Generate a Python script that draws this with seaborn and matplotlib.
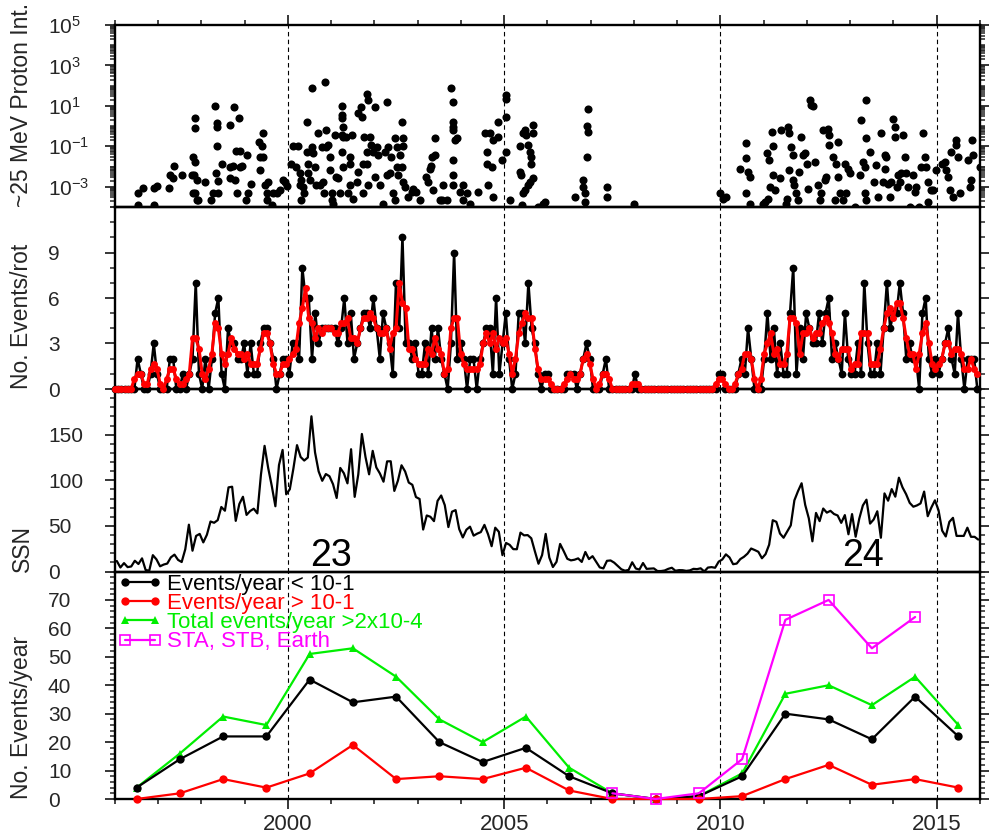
import numpy as np
import pandas as pd
import matplotlib
matplotlib.use("Agg")
import matplotlib.pyplot as plt
import matplotlib.transforms as mtransforms
import seaborn as sns
from matplotlib.ticker import MultipleLocator, FixedLocator, LogLocator, NullFormatter

# ---------------- data ----------------
# Panel 1: individual events (decimal year, log10 of ~25 MeV proton peak intensity)
ev_year = [
    1996.54, 1996.54, 1996.64, 1996.90, 1996.90, 1996.96, 1997.26, 1997.27, 1997.36, 1997.35,
    1997.56, 1997.77, 1997.81, 1997.85, 1997.83, 1997.89, 1997.81, 1997.85, 1997.89, 1997.93,
    1997.86, 1997.86, 1998.08, 1998.23, 1998.27, 1998.31, 1998.35, 1998.35, 1998.35, 1998.33,
    1998.39, 1998.39, 1998.47, 1998.66, 1998.66, 1998.66, 1998.75, 1998.73, 1998.77, 1998.83,
    1998.79, 1998.87, 1998.89, 1998.89, 1998.93, 1999.06, 1999.08, 1999.04, 1999.14, 1999.34,
    1999.43, 1999.39, 1999.35, 1999.43, 1999.35, 1999.47, 1999.51, 1999.51, 1999.53, 1999.62,
    1999.66, 1999.74, 1999.81, 1999.89, 1999.93, 1999.97,
    2000.08, 2000.12, 2000.18, 2000.24, 2000.28, 2000.31, 2000.28, 2000.35, 2000.31, 2000.37,
    2000.43, 2000.43, 2000.47, 2000.47, 2000.51, 2000.55, 2000.56, 2000.58, 2000.62, 2000.65,
    2000.70, 2000.74, 2000.78, 2000.82, 2000.83, 2000.85, 2000.88, 2000.89, 2000.93, 2000.97,
    2000.98, 2001.01, 2001.01, 2001.05, 2001.08, 2001.12, 2001.16, 2001.20, 2001.24, 2001.24,
    2001.24, 2001.24, 2001.24, 2001.28, 2001.28, 2001.28, 2001.35, 2001.39, 2001.43, 2001.43,
    2001.43, 2001.47, 2001.51, 2001.59, 2001.62, 2001.62, 2001.68, 2001.70, 2001.74, 2001.74,
    2001.75, 2001.82, 2001.82, 2001.82, 2001.86, 2001.86, 2001.89, 2001.93, 2001.97, 2002.01,
    2002.01, 2002.05, 2002.09, 2002.12, 2002.20, 2002.24, 2002.28, 2002.32, 2002.28, 2002.36,
    2002.39, 2002.43, 2002.47, 2002.47, 2002.51, 2002.51, 2002.55, 2002.59, 2002.63, 2002.63,
    2002.66, 2002.66, 2002.66, 2002.70, 2002.78, 2002.86, 2002.90, 2002.97, 2003.06, 2003.20,
    2003.24, 2003.28, 2003.30, 2003.32, 2003.36, 2003.40, 2003.40, 2003.51, 2003.55, 2003.59,
    2003.67, 2003.78, 2003.82, 2003.82, 2003.82, 2003.82, 2003.86, 2003.82, 2003.82, 2003.82,
    2003.90, 2003.97, 2004.05, 2004.05, 2004.13, 2004.20, 2004.40, 2004.55, 2004.59, 2004.59,
    2004.63, 2004.67, 2004.71, 2004.74, 2004.74, 2004.86, 2004.86,
    2004.94, 2005.04, 2005.04, 2005.04, 2005.04, 2005.13, 2005.36, 2005.38, 2005.40, 2005.36,
    2005.44, 2005.48, 2005.51, 2005.55, 2005.59, 2005.63, 2005.63, 2005.67, 2005.67, 2005.67,
    2005.59, 2005.55, 2005.48, 2005.44, 2005.78, 2005.90, 2005.94, 2006.63, 2006.82, 2006.82,
    2006.86, 2006.86, 2006.94, 2006.92, 2006.94, 2006.92, 2007.38, 2007.38, 2007.99, 2009.98,
    2010.06, 2010.12, 2010.44, 2010.60, 2010.60, 2010.64, 2010.68, 2010.58, 2010.68, 2010.98,
    2011.02, 2011.08, 2011.12, 2011.10, 2011.15, 2011.18, 2011.21, 2011.21, 2011.25, 2011.37,
    2011.41, 2011.51, 2011.54, 2011.56, 2011.58, 2011.58, 2011.64, 2011.68, 2011.68, 2011.71,
    2011.75, 2011.79, 2011.82, 2011.87, 2011.91, 2011.95, 2011.99, 2012.02, 2012.06, 2012.10,
    2012.14, 2012.18, 2012.25, 2012.29, 2012.33, 2012.36, 2012.41, 2012.45, 2012.49, 2012.52,
    2012.52, 2012.60, 2012.64, 2012.68, 2012.72, 2012.72, 2012.76, 2012.83, 2012.87, 2012.91,
    2012.95, 2012.99, 2013.10, 2013.22, 2013.26, 2013.29, 2013.33, 2013.33, 2013.37, 2013.37,
    2013.37, 2013.45, 2013.56, 2013.60, 2013.64, 2013.72, 2013.76, 2013.80, 2013.80, 2013.83,
    2013.87, 2013.91, 2013.95, 2013.99, 2014.03, 2014.03, 2014.07, 2014.10, 2014.14, 2014.18,
    2014.22, 2014.26, 2014.30, 2014.33, 2014.37, 2014.45, 2014.49, 2014.53, 2014.60, 2014.64,
    2014.68, 2014.72, 2014.76, 2014.80, 2014.80, 2014.87, 2014.91, 2014.99, 2015.11, 2015.18,
    2015.22, 2015.26, 2015.30, 2015.34, 2015.38, 2015.45, 2015.45, 2015.49, 2015.53, 2015.72,
    2015.76, 2015.80, 2015.82, 2015.84, 2015.99,
]
ev_log10 = [
    -3.33, -3.91, -3.05, -3.05, -3.91, -2.97, -3.05, -2.43, -1.98, -2.59,
    -2.43, -2.43, -1.52, -1.77, -2.43, -2.67, -3.30, -3.30, -3.66, -3.66,
    0.38, -0.07, -2.76, -3.66, -3.30, 0.99, 0.13, -0.03, -0.97, -2.31,
    -3.30, -2.71, -1.85, 0.05, -2.59, -2.01, 0.96, -1.98, -2.67, -3.30,
    -1.24, 0.38, -1.24, -2.01, -1.98, -1.44, -3.30, -3.63, -2.87, -0.78,
    -0.36, -0.97, -1.52, -1.52, -2.18, -2.92, -3.30, -3.66, -2.76, -3.91,
    -3.30, -3.30, -3.17, -2.67, -2.76, -2.97,
    -1.85, -0.97, -2.01, -0.99, -2.31, -2.67, -2.92, -3.00, -3.66, -3.30,
    0.21, -1.27, -1.85, -2.34, -2.67, 1.86, -1.02, -1.35, -2.01, -2.92,
    -0.36, -2.92, -1.02, -2.76, -3.30, 2.19, -1.02, -0.17, -0.94, -2.18,
    -1.52, -3.33, -3.66, -3.83, -0.45, -2.51, -2.59, -3.30, 0.99, 0.54,
    0.38, -0.45, -1.27, -0.03, -0.53, -2.01, -0.53, -3.30, -2.92, -1.52,
    -1.85, -0.45, -3.58, -2.76, 0.63, -2.26, 0.96, 0.46, -1.85, -3.30,
    -0.53, 1.58, -1.27, -1.85, 1.29, -2.92, -0.53, -0.94, -1.27, 0.96,
    -2.51, -1.02, -1.44, -2.92, -3.83, -1.27, 1.20, -1.02, -2.43, -2.34,
    -1.52, -3.33, -3.66, -0.61, -1.02, -2.01, -2.43, -1.44, 0.21, -2.01,
    -0.61, -0.97, -2.76, -3.00, -3.50, -3.25, -3.09, -3.25, -3.63, -2.51,
    -2.76, -2.10, -1.98, -1.52, -3.17, -0.61, -1.44, -3.66, -3.66, -2.92,
    -3.66, 1.86, 1.20, 0.21, -0.03, -0.20, -0.69, -1.68, -2.43, -2.92,
    -0.61, -3.25, -2.92, -3.66, -3.33, -3.83, -3.25, -0.36, -1.27, -1.85,
    -2.92, -0.36, -2.01, -0.69, -3.50, 0.21, -0.53,
    -1.68, 1.53, 1.32, 0.43, -1.27, -3.63, -2.26, -2.43, -3.91, -0.97,
    -0.36, -0.17, -0.45, -0.94, -1.27, -1.52, -1.85, 0.05, -0.36, -2.59,
    -2.76, -2.92, -3.17, -3.33, -3.99, -3.83, -3.75, -3.50, -2.67, -3.00,
    -3.33, -3.75, 0.87, 0.00, -0.28, -1.52, -3.03, -3.50, -3.86, -3.33,
    -3.58, -3.50, -2.10, -0.83, -1.60, -2.26, -2.51, -3.33, -3.86, -3.86,
    -3.75, -1.32, -1.68, -3.58, -3.00, -0.28, -0.99, -2.43, -3.17, -2.59,
    -0.17, -3.83, -3.58, -0.03, -0.33, -2.18, -1.02, -1.44, -2.67, -2.92,
    -3.33, -3.66, -2.26, -0.53, -1.44, -1.35, -1.85, -3.09, 1.29, 1.04,
    0.99, -1.77, -2.92, -3.66, -3.33, -0.20, -2.67, -2.51, -0.12, -0.45,
    -0.94, -1.52, -3.66, -1.85, -0.78, -2.51, -3.33, -3.66, -1.85, -3.33,
    -2.10, -2.34, -3.99, -2.43, 0.30, -1.77, -2.01, -3.33, 1.29, -0.61,
    -3.66, -1.27, -2.76, -1.93, -3.50, -0.33, -2.76, -1.44, -2.10, -1.52,
    -2.84, -3.50, -2.76, 0.33, -0.03, -0.53, -3.00, -2.43, -2.76, -2.34,
    -0.45, -1.52, -2.34, -3.00, -3.99, -2.43, -3.25, -3.00, -3.99, -2.01,
    -0.36, -1.52, -2.01, -2.76, -3.75, -3.17, -3.17, -2.18, -1.85, -1.77,
    -2.18, -2.51, -3.17, -1.27, -3.50, -0.69, -0.94, -1.52, -3.33, -1.68,
    -3.00, -2.67, -0.69, -1.44, -2.01,
]

# Panel 2: events per Carrington rotation (first rotation at 1996.0)
CR_FIRST = 1905
rot_events = [
    0, 0, 0, 0, 0, 0, 0, 2, 1, 0, 0, 1, 3, 1, 0, 0, 0, 2, 2, 0,
    0, 1, 0, 1, 2, 7, 1, 0, 2, 0, 2, 5, 6, 1, 0, 4, 3, 3, 2, 2,
    3, 1, 3, 1, 1, 3, 4, 4, 3, 2, 0, 1, 2, 2, 1, 3, 3, 2, 8, 6,
    6, 2, 5, 3, 4, 4, 4, 4, 4, 3, 4, 6, 3, 5, 2, 3, 4, 5, 5, 4,
    6, 4, 2, 5, 4, 3, 1, 7, 4, 10, 3, 3, 2, 3, 1, 1, 3, 1, 4, 2,
    4, 2, 1, 0, 3, 9, 2, 3, 2, 0, 2, 2, 0, 2, 3, 4, 4, 1, 6, 1,
    3, 5, 2, 0, 1, 5, 5, 3, 7, 4, 3, 1, 0, 1, 1, 0, 0, 0, 0, 0,
    1, 1, 1, 0, 1, 2, 3, 2, 0, 0, 0, 1, 2, 0, 0, 0, 0, 0, 0, 0,
    0, 1, 0, 0, 0, 0, 0, 0, 0, 0, 0, 0, 0, 0, 0, 0, 0, 0, 0, 0,
    0, 0, 0, 0, 0, 0, 0, 1, 1, 0, 0, 0, 0, 1, 2, 1, 4, 2, 0, 0,
    0, 2, 5, 2, 4, 1, 3, 1, 1, 5, 8, 1, 4, 2, 5, 4, 3, 3, 5, 3,
    5, 6, 2, 3, 2, 1, 5, 2, 1, 1, 3, 1, 7, 3, 1, 1, 3, 1, 4, 7,
    4, 5, 5, 7, 5, 2, 3, 2, 2, 0, 5, 6, 2, 1, 2, 1, 2, 3, 4, 2,
    1, 5, 2, 0, 2, 2, 2, 0,
]
rot_smooth = [
    0, 0, 0, 0, 0, 0, 0.67, 1, 1, 0.33, 0.33, 1.33, 1.67, 1.33, 0.33, 0, 0.67, 1.33, 1.33, 0.67,
    0.33, 0.33, 0.67, 1, 3.33, 3.33, 2.67, 1, 0.67, 1.33, 2.33, 4.33, 4, 2.33, 1.67, 2.33, 3.33, 2.67, 2.33, 2.33,
    2, 2.33, 1.67, 1.67, 1.67, 2.67, 3.67, 3.67, 3, 1.67, 1, 1, 1.67, 1.67, 2, 2.33, 2.67, 4.33, 5.33, 6.67,
    4.67, 4.33, 3.33, 4, 3.67, 4, 4, 4, 3.67, 3.67, 4.33, 4.33, 4.67, 3.33, 3.33, 3, 4, 4.67, 4.67, 5,
    4.67, 4, 3.67, 3.67, 4, 2.67, 3.67, 4, 7, 5.67, 5.33, 2.67, 2.67, 2, 1.67, 1.67, 1.67, 2.67, 2.33, 3.33,
    2.67, 2.33, 1, 1.33, 4, 4.67, 4.67, 2.33, 1.67, 1.33, 1.33, 1.33, 1.33, 1.67, 3, 3.67, 3, 3.67, 2.67, 3.33,
    3, 3.33, 2.33, 1, 2, 3.67, 4.33, 5, 4.67, 4.67, 2.67, 1.33, 0.67, 0.67, 0.67, 0.33, 0, 0, 0, 0.33,
    0.67, 1, 0.67, 0.67, 1, 2, 2.33, 1.67, 0.67, 0, 0.33, 1, 1, 0.67, 0, 0, 0, 0, 0, 0,
    0.33, 0.33, 0.33, 0, 0, 0, 0, 0, 0, 0, 0, 0, 0, 0, 0, 0, 0, 0, 0, 0,
    0, 0, 0, 0, 0, 0, 0.33, 0.67, 0.67, 0.33, 0, 0, 0.33, 1, 1.33, 2.33, 2.33, 2, 0.67, 0,
    0.67, 2.33, 3, 3.67, 2.33, 2.67, 1.67, 1.67, 2.33, 4.67, 4.67, 4.33, 2.33, 3.67, 3.67, 4, 3.33, 3.67, 3.67, 4.33,
    4.67, 4.33, 3.67, 2.33, 2, 2.67, 2.67, 2.67, 1.33, 1.67, 1.67, 3.67, 3.67, 3.67, 1.67, 1.67, 1.67, 2.67, 4, 5,
    5.33, 4.67, 5.67, 5.67, 4.67, 3.33, 2.33, 2.33, 1.33, 2.33, 3.67, 4.33, 3, 1.67, 1.33, 1.67, 2, 3, 3, 2.33,
    2.67, 2.67, 2.33, 1.33, 1.33, 2, 1.33, 1,
]

# Panel 3: monthly sunspot number, Jan 1996 .. Dec 2015
ssn_monthly = [
    11.5, 4.4, 9.2, 4.8, 5.5, 11.8, 8.2, 14.4, 1.6, 0.9, 17.9, 13.3,
    5.7, 7.6, 8.7, 15.5, 18.5, 12.7, 10.4, 24.4, 51.3, 22.8, 39.0, 41.2,
    31.9, 40.3, 54.8, 53.4, 56.3, 70.7, 66.6, 92.2, 92.9, 55.5, 74.0, 81.9,
    62.0, 66.3, 68.8, 63.7, 106.4, 137.7, 113.5, 93.7, 71.5, 116.7, 133.2, 84.6,
    90.1, 112.9, 138.5, 125.5, 121.6, 124.9, 170.1, 130.5, 109.7, 99.4, 106.8, 104.4,
    95.6, 80.6, 113.5, 107.7, 96.6, 134.0, 81.8, 106.4, 150.7, 125.5, 106.5, 132.2,
    114.1, 107.4, 98.4, 120.7, 120.8, 88.3, 99.6, 116.4, 109.6, 97.5, 95.0, 81.6,
    79.5, 46.0, 61.4, 60.0, 55.2, 77.4, 83.3, 72.7, 48.7, 65.5, 67.3, 46.5,
    37.3, 45.8, 49.1, 39.3, 41.5, 43.2, 51.1, 40.9, 27.7, 48.0, 43.5, 17.9,
    31.3, 29.2, 24.5, 24.4, 42.6, 39.6, 39.9, 36.4, 22.1, 8.5, 18.0, 41.2,
    15.3, 4.9, 10.6, 30.2, 22.3, 13.9, 12.2, 12.9, 14.4, 10.5, 21.4, 13.6,
    16.8, 10.7, 4.5, 3.4, 11.7, 12.1, 9.7, 6.0, 2.4, 0.9, 1.7, 10.1,
    3.3, 2.1, 9.3, 2.9, 3.2, 3.4, 0.5, 0.5, 1.1, 2.9, 4.1, 0.8,
    1.5, 1.4, 0.7, 1.2, 2.9, 2.6, 3.5, 0.0, 4.3, 4.8, 4.1, 10.8,
    13.2, 18.8, 15.4, 8.0, 8.7, 13.6, 16.1, 19.6, 25.2, 23.5, 21.6, 14.5,
    19.0, 29.4, 56.2, 54.4, 41.6, 37.0, 43.9, 50.6, 78.0, 88.0, 96.7, 73.0,
    58.3, 33.1, 64.2, 55.2, 69.0, 64.5, 66.5, 63.0, 61.4, 53.3, 61.8, 40.8,
    62.9, 38.1, 57.9, 72.4, 78.7, 52.5, 57.0, 66.0, 37.0, 85.6, 77.6, 90.3,
    82.0, 102.8, 92.2, 84.7, 75.2, 71.0, 72.4, 74.6, 87.6, 60.6, 70.1, 78.0,
    67.0, 44.8, 38.4, 54.4, 58.8, 39.0, 39.0, 39.0, 48.0, 38.0, 38.0, 35.0,
]

# Panel 4: yearly counts (plotted at mid-year)
years = list(range(1996, 2016))
ev_low = [4, 14, 22, 22, 42, 34, 36, 20, 13, 18, 8, 2, 0, 1, 8, 30, 28, 21, 36, 22]
ev_high = [0, 2, 7, 4, 9, 19, 7, 8, 7, 11, 3, 0, 0, 0, 1, 7, 12, 5, 7, 4]
ev_total = [4, 16, 29, 26, 51, 53, 43, 28, 20, 29, 11, 2, 0, 1, 9, 37, 40, 33, 43, 26]
ev_multi = [None] * 11 + [2, 0, 2, 14, 63, 70, 53, 64, None]

# tick values / labels
p1_ticks = [1e-3, 1e-1, 1e1, 1e3, 1e5]
p1_labels = ['$10^{-3}$', '$10^{-1}$', '$10^{1}$', '$10^{3}$', '$10^{5}$']
p2_ticks = [0, 3, 6, 9]
p3_ticks = [0, 50, 100, 150]
p4_ticks = [0, 10, 20, 30, 40, 50, 60, 70]

cycle_labels = ["23", "24"]
cycle_label_years = [2000.99, 2013.29]
legend_labels = ["Events/year < 10-1", "Events/year > 10-1",
                 "Total events/year >2x10-4", "STA, STB, Earth"]
ylabels = ["~25 MeV Proton Int.", "No. Events/rot", "SSN", "No. Events/year"]

# ---------------- derived tables ----------------
n_ev = min(len(ev_year), len(ev_log10))
df_ev = pd.DataFrame({"year": ev_year[:n_ev],
                      "flux": np.power(10.0, np.array(ev_log10[:n_ev]))})
n_rot = min(len(rot_events), len(rot_smooth))
cr = np.arange(CR_FIRST, CR_FIRST + n_rot)
rot_year = 1996.0 + (cr - CR_FIRST) * 27.2753 / 365.25
df_rot = pd.DataFrame({"year": rot_year, "n": rot_events[:n_rot], "sm": rot_smooth[:n_rot]})
df_ssn = pd.DataFrame({"year": 1996 + (np.arange(len(ssn_monthly)) + 0.5) / 12.0,
                       "ssn": ssn_monthly})
df_yr = pd.DataFrame({"year": np.array(years) + 0.5, "low": ev_low, "high": ev_high,
                      "total": ev_total,
                      "multi": [np.nan if v is None else v for v in ev_multi]})
df_multi = df_yr.dropna(subset=["multi"])

# ---------------- style ----------------
sns.set_theme(style="ticks")
plt.rcParams['font.family'] = ['Liberation Sans', 'DejaVu Sans']
plt.rcParams['mathtext.fontset'] = 'custom'
plt.rcParams['mathtext.rm'] = 'Liberation Sans'
plt.rcParams['mathtext.it'] = 'Liberation Sans:italic'
plt.rcParams['mathtext.bf'] = 'Liberation Sans:bold'
plt.rcParams['mathtext.default'] = 'regular'

fig = plt.figure(figsize=(9.89, 8.38), dpi=100)
fig.patch.set_facecolor('white')
L, W = 115 / 989, 865 / 989


def ax_rect(top_px, bot_px):
    return [L, 1 - bot_px / 838, W, (bot_px - top_px) / 838]


ax1 = fig.add_axes(ax_rect(25, 207))
ax2 = fig.add_axes(ax_rect(207, 389))
ax3 = fig.add_axes(ax_rect(389, 571.5))
ax4 = fig.add_axes(ax_rect(571.5, 799))
axes = [ax1, ax2, ax3, ax4]
ax2.set_zorder(5)
ax3.set_zorder(3)
ax4.set_zorder(4)
ax1.set_zorder(2)

GREEN = '#00ee00'
MAG = '#ff00ff'
RED = '#ff0000'

# Panel 1
sns.scatterplot(data=df_ev, x="year", y="flux", ax=ax1, color='black', s=34,
                linewidth=0, legend=False, zorder=3)
ax1.set_yscale('log')
ax1.set_ylim(1e-4, 1e5)

# Panel 2
sns.lineplot(data=df_rot, x="year", y="n", ax=ax2, color='black', lw=1.8,
             marker='o', markersize=5.6, markeredgecolor='black', markeredgewidth=0,
             estimator=None, sort=False, clip_on=False, zorder=3)
sns.lineplot(data=df_rot, x="year", y="sm", ax=ax2, color=RED, lw=2.2,
             marker='o', markersize=5.0, markeredgecolor=RED, markeredgewidth=0,
             estimator=None, sort=False, clip_on=False, zorder=4)
ax2.set_ylim(0, 12)

# Panel 3
sns.lineplot(data=df_ssn, x="year", y="ssn", ax=ax3, color='black', lw=1.6,
             estimator=None, sort=False)
ax3.set_ylim(0, 200)
for lab, yr in zip(cycle_labels, cycle_label_years):
    ax3.text(yr, 6, lab, fontsize=27, ha='center', va='baseline', color='black')

# Panel 4
sns.lineplot(data=df_yr, x="year", y="low", ax=ax4, color='black', lw=1.6,
             marker='o', markersize=6, markeredgecolor='black', markeredgewidth=0,
             estimator=None, label=legend_labels[0], clip_on=False, zorder=4)
sns.lineplot(data=df_yr, x="year", y="high", ax=ax4, color=RED, lw=1.6,
             marker='o', markersize=6, markeredgecolor=RED, markeredgewidth=0,
             estimator=None, label=legend_labels[1], clip_on=False, zorder=4)
sns.lineplot(data=df_yr, x="year", y="total", ax=ax4, color=GREEN, lw=1.6,
             marker='^', markersize=6, markeredgecolor=GREEN, markeredgewidth=0,
             estimator=None, label=legend_labels[2], clip_on=False, zorder=3)
sns.lineplot(data=df_multi, x="year", y="multi", ax=ax4, color=MAG, lw=1.6,
             marker='s', markersize=6.5, markerfacecolor='none', markeredgecolor=MAG,
             markeredgewidth=1.2, estimator=None, label=legend_labels[3],
             clip_on=False, zorder=5)
ax4.set_ylim(0, 80)
leg = ax4.legend(loc='upper left', bbox_to_anchor=(0.004, 0.99), frameon=False,
                 fontsize=16, handlelength=1.95, handletextpad=0.25,
                 labelspacing=-0.08, borderpad=0.0, borderaxespad=0.0, numpoints=2)
for txt, col in zip(leg.get_texts(), ['black', RED, GREEN, MAG]):
    txt.set_color(col)

# ---------------- axes styling ----------------
for ax in axes:
    ax.set_xlim(1996, 2016)
    ax.set_facecolor('none')
    ax.set_xlabel('')
    ax.set_ylabel('')
    for s in ax.spines.values():
        s.set_visible(True)
        s.set_linewidth(1.7)
        s.set_color('black')
    for yr in (2000, 2005, 2010, 2015):
        ax.axvline(yr, color='black', lw=0.8, ls=(0, (4, 3)), zorder=1)
    ax.xaxis.set_major_locator(MultipleLocator(5))
    ax.xaxis.set_minor_locator(MultipleLocator(1))
    ax.tick_params(axis='x', which='major', length=7, width=1.3, direction='out')
    ax.tick_params(axis='x', which='minor', length=3.5, width=1.2, direction='out')
    ax.tick_params(axis='x', which='both', bottom=False, top=False,
                   labelbottom=False, labeltop=False)

ax1.tick_params(axis='x', which='both', top=True)
ax4.tick_params(axis='x', which='both', bottom=True, labelbottom=True)
ax4.tick_params(axis='x', which='major', labelsize=16, pad=4)

ax1.yaxis.set_major_locator(FixedLocator(p1_ticks))
ax1.yaxis.set_minor_locator(LogLocator(base=10, subs=np.arange(1, 10), numticks=60))
ax1.yaxis.set_minor_formatter(NullFormatter())
ax2.yaxis.set_major_locator(FixedLocator(p2_ticks))
ax2.yaxis.set_minor_locator(MultipleLocator(1))
ax3.yaxis.set_major_locator(FixedLocator(p3_ticks))
ax3.yaxis.set_minor_locator(MultipleLocator(10))
ax4.yaxis.set_major_locator(FixedLocator(p4_ticks))
ax4.yaxis.set_minor_locator(MultipleLocator(2))

for ax in axes:
    ax.tick_params(axis='y', which='major', length=7, width=1.3, direction='out',
                   left=True, right=True, labelleft=False, labelright=False)
    ax.tick_params(axis='y', which='minor', length=3.5, width=1.1, direction='out',
                   left=True, right=True)

# left-aligned y tick labels (as in the original), starting 67 px left of the axis
x_lab = -67 / 865
for ax, ticks, labels in [(ax1, p1_ticks, p1_labels),
                          (ax2, p2_ticks, [str(v) for v in p2_ticks]),
                          (ax3, p3_ticks, [str(v) for v in p3_ticks]),
                          (ax4, p4_ticks, [str(v) for v in p4_ticks])]:
    tr = mtransforms.blended_transform_factory(ax.transAxes, ax.transData)
    for v, s in zip(ticks, labels):
        ax.text(x_lab, v, s, transform=tr, ha='left', va='center_baseline',
                fontsize=15, clip_on=False)

# y-axis titles, starting at each panel's bottom
for ax, lab in zip(axes, ylabels):
    y0 = ax.get_position().y0
    fig.text(22 / 989, y0, lab, rotation=90, ha='center', va='bottom', fontsize=16.5)

fig.savefig("out.png", dpi=100, facecolor='white')
